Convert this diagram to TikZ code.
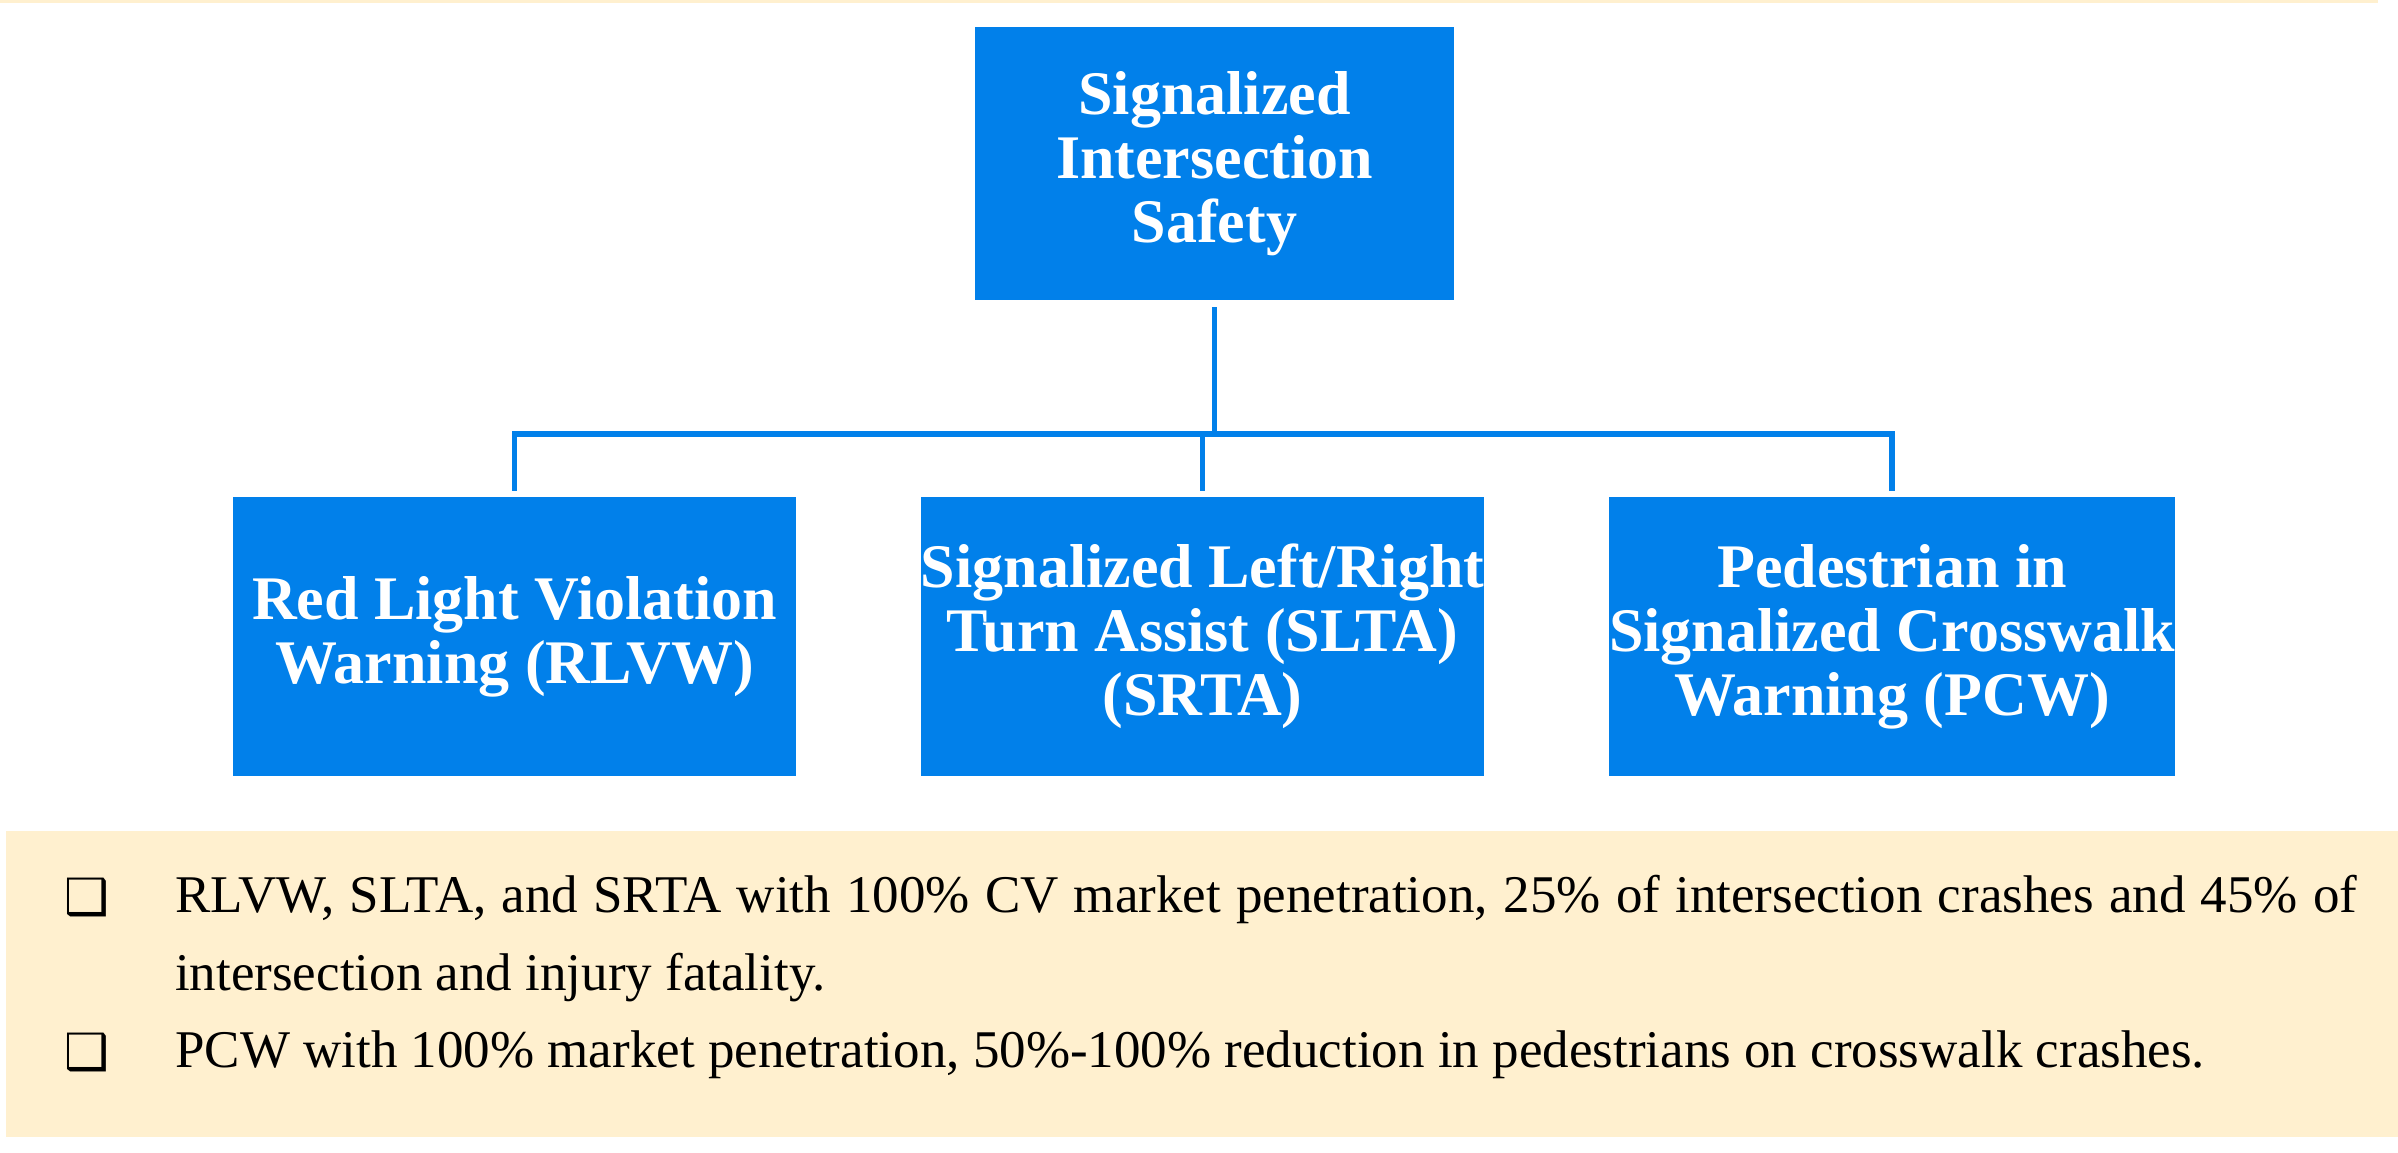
\documentclass[tikz,border=0pt]{standalone}
\usepackage{fontspec}
\setmainfont{Liberation Serif}
\newfontfamily\symfont{DejaVu Sans}
\definecolor{boxblue}{HTML}{0180EA}
\definecolor{bandyellow}{HTML}{FFF0CF}
\tikzset{
  topicbox/.style={fill=boxblue, draw=none, inner sep=0pt, text=white, align=center,
    font=\bfseries\fontsize{62}{64}\selectfont},
  conn/.style={draw=boxblue, line width=5.5pt},
  bodytext/.style={anchor=base west, inner sep=0pt, font=\fontsize{53}{78}\selectfont},
  bulletmark/.style={anchor=base west, inner sep=0pt, font=\symfont\fontsize{50}{50}\selectfont},
}
\begin{document}
\begin{tikzpicture}[x=1pt,y=-1pt]
\useasboundingbox (0,0) rectangle (2398,1152);
% thin top strip and bottom band
\fill[bandyellow] (0,0) rectangle (2378,3);
\fill[bandyellow] (6,831) rectangle (2398,1137);
% boxes
\node[topicbox, minimum width=479pt, minimum height=273pt] (top) at (1214.5,163.5)
  {Signalized\\Intersection\\Safety};
\node[topicbox, minimum width=563pt, minimum height=279pt] (left) at (514.5,636.5)
  {Red Light Violation\\Warning (RLVW)};
\node[topicbox, minimum width=561pt, minimum height=279pt] (mid) at (1202.5,636.5)
  {Signalized Left/Right\\Turn Assist (SLTA)\\(SRTA)};
\node[topicbox, minimum width=564pt, minimum height=279pt] (right) at (1892,636.5)
  {Pedestrian in\\Signalized Crosswalk\\Warning (PCW)};
% connectors
\coordinate (busy) at (0,434);
\draw[conn] ([yshift=-7pt]top.south) -- (top.south |- busy);
\draw[conn, line cap=rect] (left.north |- busy) -- (right.north |- busy);
\draw[conn] (left.north |- busy) -- ([yshift=6pt]left.north);
\draw[conn] (mid.north |- busy) -- ([yshift=6pt]mid.north);
\draw[conn] (right.north |- busy) -- ([yshift=6pt]right.north);
% bullets and text
\node[bulletmark] (b1) at (64,914) {❑};
\node[bulletmark] (b2) at (64,1069) {❑};
\node[bodytext] (l1) at (175,912) {\hbox to 2182pt{RLVW, SLTA, and SRTA with 100\% CV market penetration, 25\% of intersection crashes and 45\% of}};
\node[bodytext] (l2) at (175,990) {intersection and injury fatality.};
\node[bodytext] (l3) at (175,1067) {PCW with 100\% market penetration, 50\%-100\% reduction in pedestrians on crosswalk crashes.};
\end{tikzpicture}
\end{document}
